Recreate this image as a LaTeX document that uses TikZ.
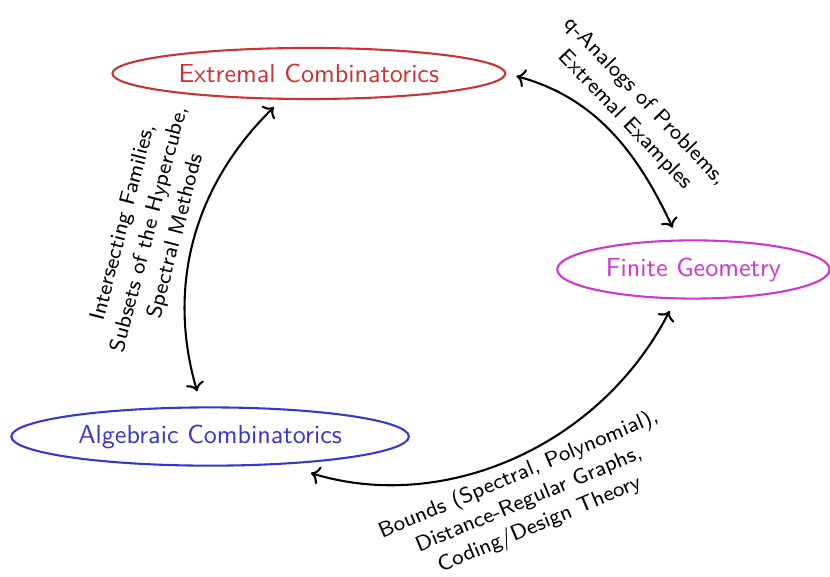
\documentclass[tikz,border=0pt]{standalone}
\usepackage{tikz}
\usetikzlibrary{shapes,arrows.meta,positioning,calc}
\definecolor{extred}{RGB}{205,50,50}
\definecolor{algblue}{RGB}{55,55,205}
\definecolor{finmag}{RGB}{205,55,205}

\begin{document}
\begin{tikzpicture}[
    area/.style={ellipse, draw, thick, font=\sffamily},
    link/.style={<->, thick},
    topic/.style={font=\sffamily\fontsize{8.3}{10.4}\selectfont, align=center, sloped}
]
    \useasboundingbox (0,0) rectangle (11.18,7.77);

    % Research areas
    \node[area, draw=extred, text=extred] (ext) at (4.16,6.78) {Extremal Combinatorics};
    \node[area, draw=algblue, text=algblue] (alg) at (2.83,1.89) {Algebraic Combinatorics};
    \node[area, draw=finmag, text=finmag] (fin) at (9.34,4.14) {Finite Geometry};

    % Connections between areas
    \draw[link, shorten <=6pt, shorten >=4pt] (alg) to[bend left=31] node[topic, above] {Intersecting Families,\\Subsets of the Hypercube,\\Spectral Methods} (ext);
    \draw[link, shorten <=4pt, shorten >=5pt] (ext.east) to[out=-15, in=115] node[topic, above] {q-Analogs of Problems,\\Extremal Examples} (fin.117);
    \draw[link, shorten <=5pt, shorten >=11pt] (fin) to[bend left=40] node[topic, below] {Bounds (Spectral, Polynomial),\\Distance-Regular Graphs,\\Coding/Design Theory} (alg);
\end{tikzpicture}
\end{document}
